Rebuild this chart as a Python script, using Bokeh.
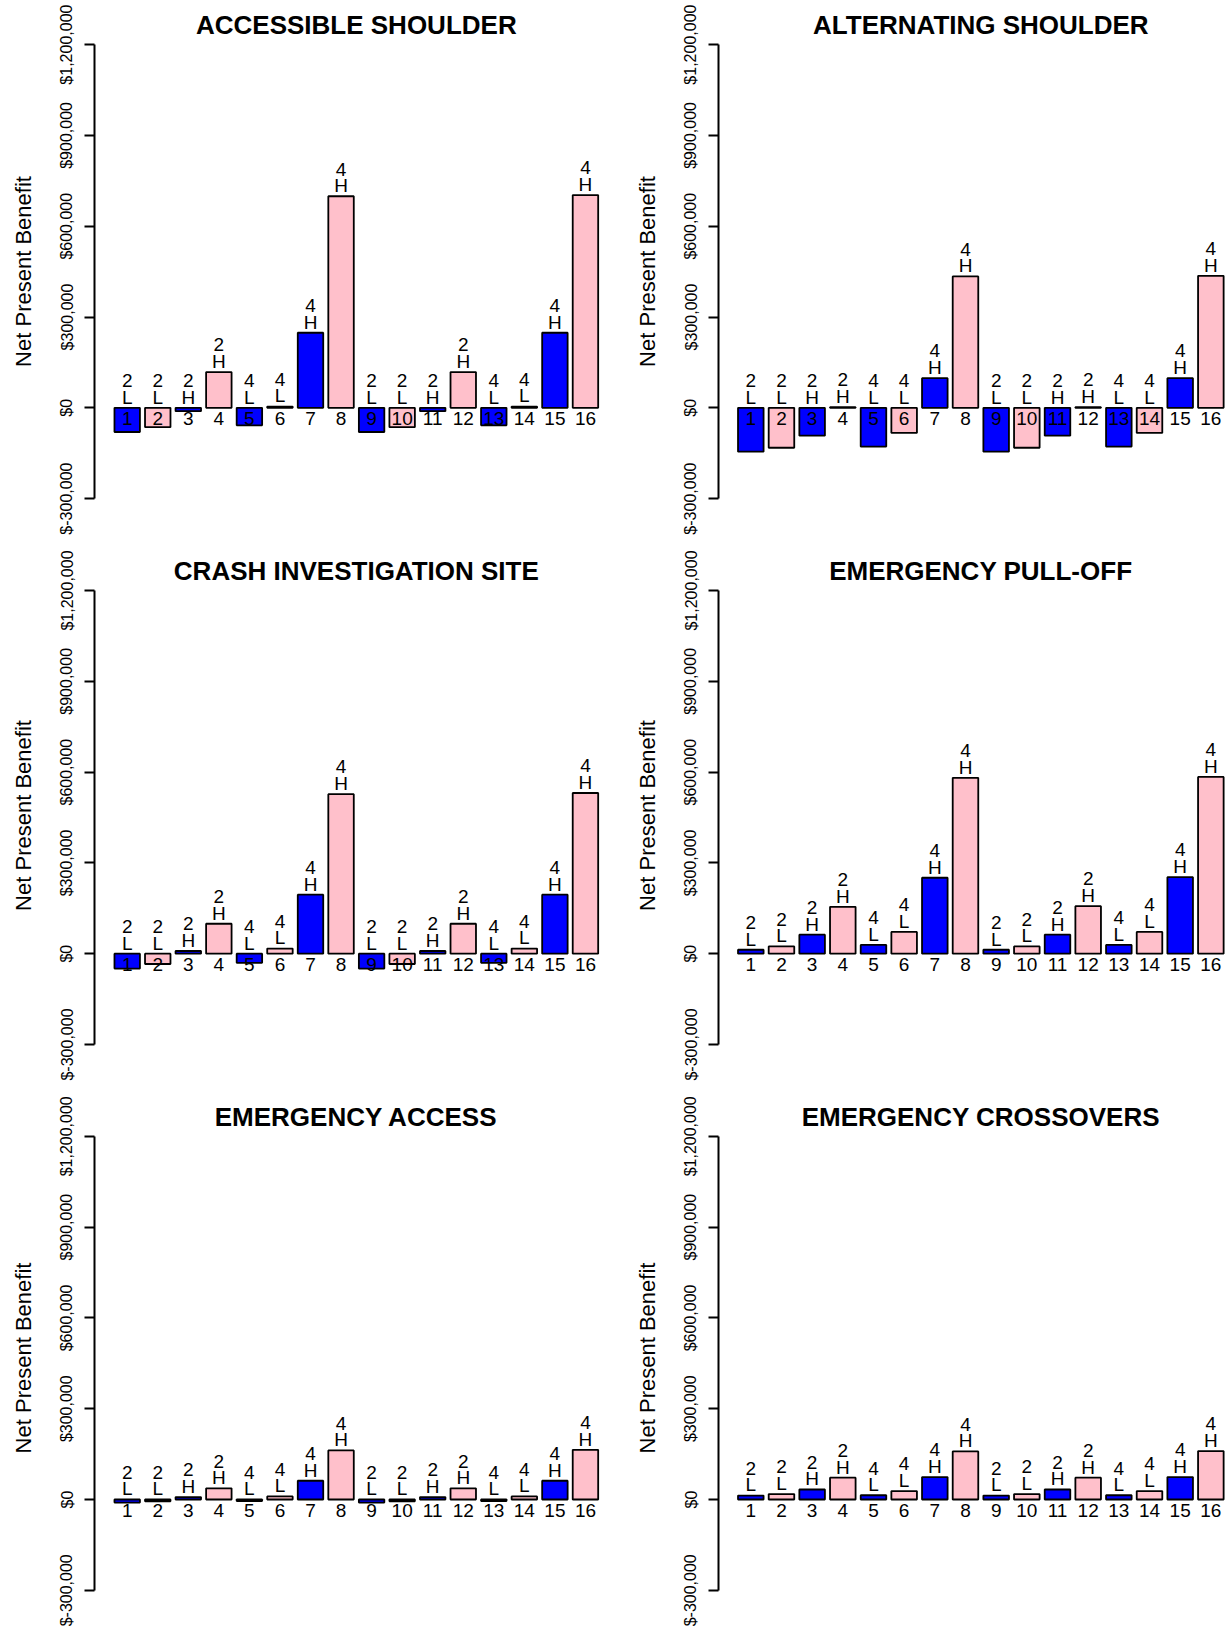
import numpy as np
from bokeh.plotting import figure
from bokeh.layouts import gridplot
from bokeh.models import FixedTicker, Range1d, ColumnDataSource
from bokeh.core.properties import value
from bokeh.embed import file_html
from bokeh.resources import INLINE

# ---------------- data ----------------
bar_numbers = [str(i) for i in range(1, 17)]
lane_labels = ["2", "2", "2", "2", "4", "4", "4", "4",
               "2", "2", "2", "2", "4", "4", "4", "4"]
level_labels = ["L", "L", "H", "H", "L", "L", "H", "H",
                "L", "L", "H", "H", "L", "L", "H", "H"]
tick_values = [-300000, 0, 300000, 600000, 900000, 1200000]
tick_labels = ["$-300,000", "$0", "$300,000", "$600,000", "$900,000", "$1,200,000"]

panel_titles = ["ACCESSIBLE SHOULDER", "ALTERNATING SHOULDER",
                "CRASH INVESTIGATION SITE", "EMERGENCY PULL-OFF",
                "EMERGENCY ACCESS", "EMERGENCY CROSSOVERS"]

accessible_shoulder = [-80000, -64000, -11000, 118000, -58000, 4000, 248000, 699000,
                       -80000, -64000, -11000, 118000, -58000, 4000, 248000, 703000]
alternating_shoulder = [-145000, -132000, -92000, 2000, -128000, -83000, 98000, 434000,
                        -145000, -132000, -92000, 2000, -128000, -83000, 98000, 436000]
crash_investigation_site = [-49000, -34000, 9000, 99000, -30000, 17000, 195000, 527000,
                            -49000, -34000, 9000, 99000, -30000, 17000, 195000, 531000]
emergency_pull_off = [13000, 24000, 63000, 155000, 29000, 72000, 251000, 581000,
                      13000, 24000, 63000, 157000, 29000, 72000, 253000, 584000]
emergency_access = [-10000, -6000, 8000, 37000, -5000, 10000, 62000, 162000,
                    -10000, -6000, 8000, 37000, -5000, 10000, 62000, 164000]
emergency_crossovers = [13000, 18000, 33000, 72000, 14000, 28000, 74000, 159000,
                        13000, 18000, 33000, 72000, 14000, 28000, 74000, 160000]

panel_values = [accessible_shoulder, alternating_shoulder, crash_investigation_site,
                emergency_pull_off, emergency_access, emergency_crossovers]

# ---------------- layout / style ----------------
FONT = value("Liberation Sans")
PPU = 90.8 / 300000.0          # pixels per dollar
PANEL_W = 614
row_heights = [542, 546, 539]
zero_px = [407.3, 411.2, 411.0]
axis_px = [94, 104]
first_center_px = [126.7, 136.3]
spacing_px = [30.55, 30.67]
BLUE = "#0000FF"
PINK = "#FFC0CB"


def make_panel(title, vals, col, row):
    H = row_heights[row]
    z = zero_px[row]
    ax = axis_px[col]
    sp = spacing_px[col]
    x0 = 1 - (first_center_px[col] - ax) / sp
    x1 = x0 + (PANEL_W - ax) / sp
    p = figure(width=PANEL_W, height=H, output_backend="svg", toolbar_location=None,
               tools="", x_range=Range1d(x0, x1),
               y_range=Range1d(-(H - z) / PPU, z / PPU),
               x_axis_location=None,
               min_border_left=ax, min_border_right=0,
               min_border_top=0, min_border_bottom=0)
    p.outline_line_color = None
    p.grid.grid_line_color = None
    p.background_fill_color = "white"
    p.border_fill_color = "white"

    xs = np.arange(1, 17)
    v = np.array(vals, dtype=float)
    colors = [BLUE if i % 2 == 1 else PINK for i in range(1, 17)]
    src = ColumnDataSource(dict(x=xs, top=v, color=colors))
    p.vbar(x="x", width=1 / 1.2, top="top", bottom=0, source=src,
           fill_color="color", line_color="black", line_width=1.8)

    base = np.maximum(v, 0)
    p.text(x=xs, y=base + 10.6 / PPU, text=level_labels, text_font=FONT,
           text_font_size="19px", text_align="center", text_baseline="middle",
           text_color="black")
    p.text(x=xs, y=base + 27.2 / PPU, text=lane_labels, text_font=FONT,
           text_font_size="19px", text_align="center", text_baseline="middle",
           text_color="black")
    p.text(x=xs, y=np.full(16, -11.0 / PPU), text=bar_numbers, text_font=FONT,
           text_font_size="19px", text_align="center", text_baseline="middle",
           text_color="black")

    p.text(x=[8.5], y=[383.0 / PPU], text=[title], text_font=FONT,
           text_font_size="26px", text_font_style="bold", text_align="center",
           text_baseline="middle", text_color="black")

    yax = p.yaxis[0]
    yax.ticker = FixedTicker(ticks=tick_values)
    yax.major_label_overrides = {t: l for t, l in zip(tick_values, tick_labels)}
    yax.bounds = (tick_values[0], tick_values[-1])
    yax.minor_tick_line_color = None
    yax.major_tick_in = 0
    yax.major_tick_out = 10
    yax.axis_line_width = 2
    yax.major_tick_line_width = 2
    yax.axis_line_color = "black"
    yax.major_tick_line_color = "black"
    yax.major_label_orientation = "parallel"
    yax.major_label_text_font = "Liberation Sans"
    yax.major_label_text_font_size = "16px"
    yax.major_label_text_color = "black"
    yax.major_label_standoff = 9
    yax.axis_label = "Net Present Benefit"
    yax.axis_label_text_font = "Liberation Sans"
    yax.axis_label_text_font_size = "22px"
    yax.axis_label_text_font_style = "normal"
    yax.axis_label_text_color = "black"
    yax.axis_label_standoff = 20
    return p


plots = []
for k, (t, vals) in enumerate(zip(panel_titles, panel_values)):
    plots.append(make_panel(t, vals, k % 2, k // 2))

grid = gridplot([[plots[0], plots[1]], [plots[2], plots[3]], [plots[4], plots[5]]],
                toolbar_location=None)

open("out.html", "w").write(file_html(grid, INLINE))
